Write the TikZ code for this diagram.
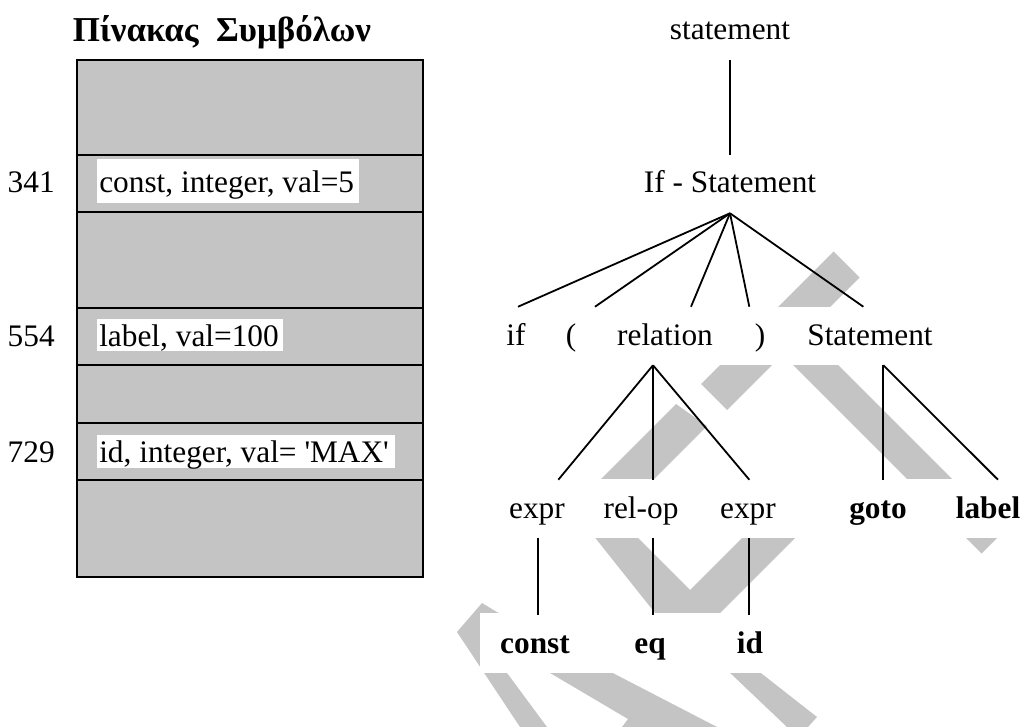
\documentclass[tikz,border=0pt]{standalone}
\usepackage{fontspec}
\setmainfont{Liberation Serif}[Ligatures=TeXOff]
\definecolor{stipple}{gray}{0.77}
\begin{document}
\begin{tikzpicture}[x=0.75pt,y=-0.75pt,
  every node/.style={font=\fontsize{23.5}{28}\selectfont, inner sep=0pt},
  tree/.style={anchor=base, text height=28.5pt, text depth=15pt},
  keyword/.style={tree, font=\fontsize{23.5}{28}\selectfont\bfseries},
  edge/.style={line width=1.35pt},
  cellbox/.style={draw=black, line width=1.8pt, fill=stipple},
  band/.style={fill=stipple}]
\fill[white] (0,0) rectangle (1025,727);
\useasboundingbox (0,0) rectangle (1025,727);

% ---------- symbol table ----------
\node[font=\fontsize{26.2}{30}\selectfont\bfseries, anchor=base] (title) at (222,42) {Πίνακας\hspace{0.5em}Συμβόλων};

\path[cellbox] (77,60)  rectangle (423,155);
\path[cellbox] (77,155) rectangle (423,212);
\path[cellbox] (77,212) rectangle (423,308);
\path[cellbox] (77,308) rectangle (423,365);
\path[cellbox] (77,365) rectangle (423,423);
\path[cellbox] (77,423) rectangle (423,480);
\path[cellbox] (77,480) rectangle (423,577);

\fill[white] (97,159) rectangle (359,203);
\fill[white] (97,319) rectangle (283,351);
\fill[white] (97,435) rectangle (395,468);

\node[anchor=base east] (n341) at (55,193) {341};
\node[anchor=base west] (e341) at (99,193) {const, integer, val=5};
\node[anchor=base east] (n554) at (55,347) {554};
\node[anchor=base west] (e554) at (99,347) {label, val=100};
\node[anchor=base east] (n729) at (55,462) {729};
\node[anchor=base west] (e729) at (99,462) {id, integer, val= 'MAX'};

% ---------- background zigzag band ----------
\path[band] (833.5,251.5) -- (859.5,277.5) -- (727,410) -- (701,384) -- cycle;
\path[band] (676,404) -- (707,426) -- (633,500) -- (580,500) -- cycle;
\path[band] (758,330) -- (803,330) -- (1004,531) -- (981.5,553.5) -- cycle;
\path[band] (581,520) -- (620,520) -- (690,590) -- (760,520) -- (813,520)
            -- (705,628) -- (667,628) -- cycle;
\path[band] (457,632) -- (482,603) -- (515,623) -- (507,673) -- (547,727)
            -- (520,727) -- cycle;
\path[band] (545,670) -- (607,670) -- (717,727) -- (622,727) -- (628,719) -- cycle;
\path[band] (727,670) -- (757,670) -- (817,717) -- (808,727) -- (787,727) -- cycle;

% white strips behind the lower rows of the tree
\fill[white] (500,307) rectangle (1000,365);
\fill[white] (495,479) rectangle (1025,538);
\fill[white] (480,613) rectangle (1000,673);

% ---------- parse tree ----------
\node[tree] (stmt)  at (730,40)  {statement};
\node[tree] (ifst)  at (730,193) {If - Statement};

\node[tree] (kwif)  at (516,345) {if};
\node[tree] (lpar)  at (571,345) {(};
\node[tree] (rel)   at (665,345) {relation};
\node[tree] (rpar)  at (760,345) {)};
\node[tree] (body)  at (870,345) {Statement};

\node[tree] (exA)   at (537,518) {expr};
\node[tree] (relop) at (641,518) {rel-op};
\node[tree] (exB)   at (748,518) {expr};
\node[keyword] (kwgoto) at (878,518) {goto};
\node[keyword] (lbl)    at (988,518) {label};

\node[keyword] (kconst) at (535,653) {const};
\node[keyword] (keq)    at (650,653) {eq};
\node[keyword] (kid)    at (750,653) {id};

\draw[edge] (stmt.south) -- (ifst.north);

\draw[edge] (ifst.south) -- ([xshift=1.5pt]kwif.north);
\draw[edge] (ifst.south) -- ([xshift=18pt]lpar.north);
\draw[edge] (ifst.south) -- ([xshift=19.5pt]rel.north);
\draw[edge] (ifst.south) -- ([xshift=-8pt]rpar.north);
\draw[edge] (ifst.south) -- ([xshift=-5pt]body.north);

\draw[edge] ([xshift=-9pt]rel.south) -- ([xshift=16pt]exA.north);
\draw[edge] ([xshift=-9pt]rel.south) -- ([xshift=9pt]relop.north);
\draw[edge] ([xshift=-9pt]rel.south) -- ([xshift=1pt]exB.north);

\draw[edge] ([xshift=10pt]body.south) -- ([xshift=4pt]kwgoto.north);
\draw[edge] ([xshift=10pt]body.south) -- ([xshift=7.5pt]lbl.north);

\draw[edge] ([xshift=1pt]exA.south) -- ([xshift=1pt]exA.south |- kconst.north);
\draw[edge] ([xshift=9pt]relop.south) -- ([xshift=9pt]relop.south |- keq.north);
\draw[edge] ([xshift=1pt]exB.south) -- ([xshift=1pt]exB.south |- kid.north);
\end{tikzpicture}
\end{document}
